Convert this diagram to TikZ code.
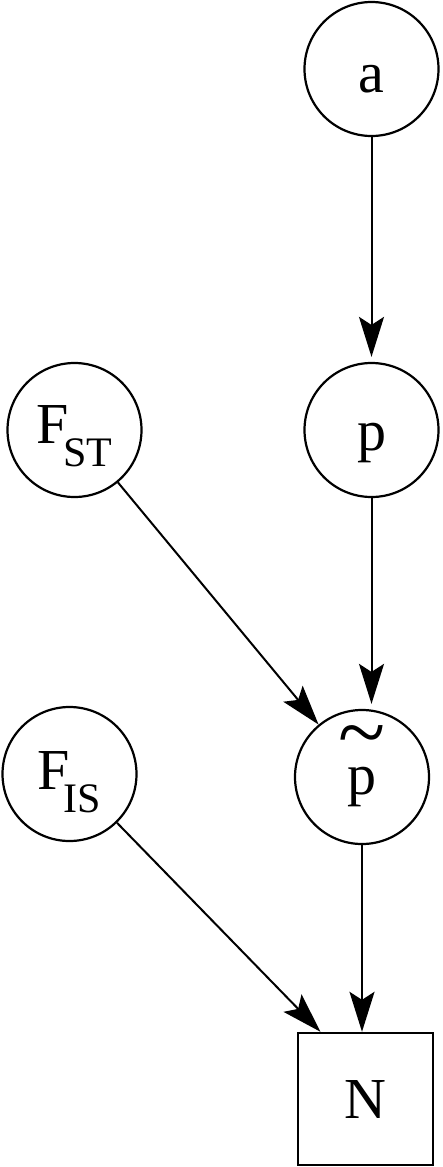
\documentclass[tikz,border=0pt]{standalone}
\usepackage{fontspec}
\usepackage{graphicx}
\setmainfont{Liberation Serif}
\usetikzlibrary{arrows.meta}
\begin{document}
\begin{tikzpicture}[x=1pt,y=-1pt,
  every node/.style={font=\fontsize{58}{62}\selectfont, inner sep=0pt},
  var/.style={circle, draw, line width=2.2pt, minimum size=134pt, text height=40pt, text depth=0pt},
  sub/.style={circle, draw, line width=2.2pt, minimum size=134pt, text depth=0pt},
  box/.style={rectangle, draw, line width=2.4pt, minimum width=135pt, minimum height=132pt, text height=38pt, text depth=0pt},
  edge/.style={line width=2pt, -{Stealth[length=40pt,width=25pt,inset=8pt]}}]
\useasboundingbox (0,0) rectangle (442,1167);
\newcommand{\subs}[1]{\kern-6pt\raisebox{-23pt}{\fontsize{42}{46}\selectfont #1}}
\node[var, text height=46pt] (a) at (371.5,69) {a};
\node[var] (p) at (371.5,430) {p};
\node[sub, text height=26pt] (FST) at (74.5,430) {F\subs{ST}};
\node[var, text height=34pt] (pt) at (362,777) {p\makebox[0pt][r]{\makebox[29pt]{\raisebox{33pt}{\scalebox{1.5}[1.5]{\char126}}}}};
\node[sub, text height=30pt] (FIS) at (69.5,774) {F\subs{IS}};
\node[box] (N) at (365.5,1099) {N};
\draw[edge, shorten >=5pt] (a.south) -- (p.north);
\draw[edge, shorten >=5pt] (p.south) -- (p.south |- pt.north);
\draw[edge] (FST) -- (pt);
\draw[edge] (FIS) -- ([xshift=-45pt]N.north);
\draw[edge] (pt.south) -- (pt.south |- N.north);
\end{tikzpicture}
\end{document}
